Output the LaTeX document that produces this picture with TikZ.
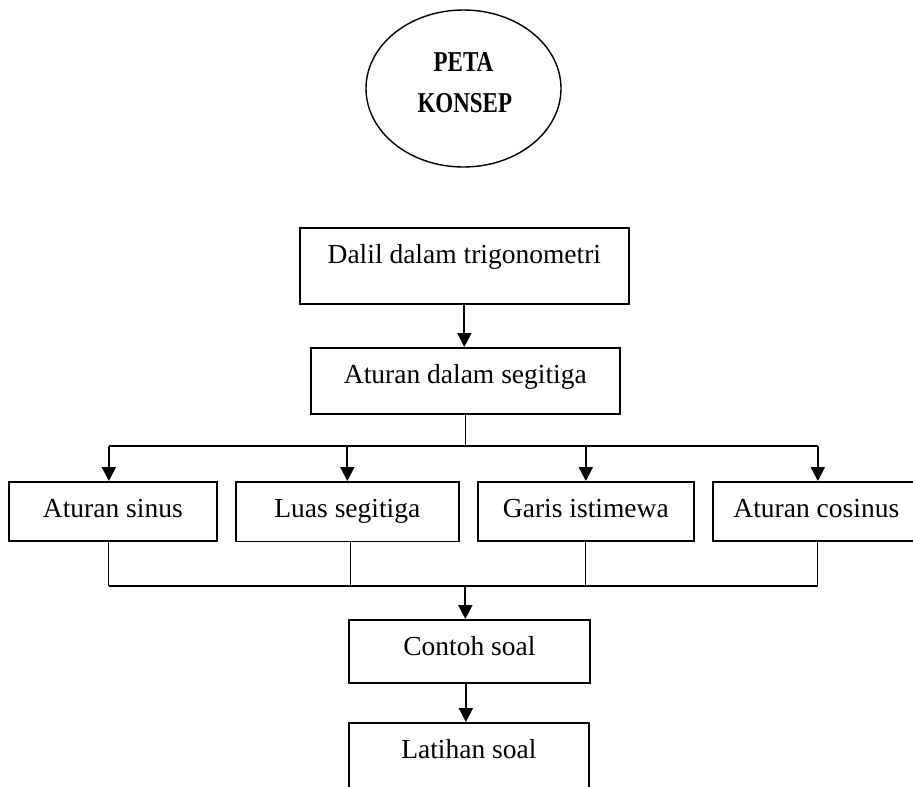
\documentclass[tikz,border=0pt]{standalone}
\usepackage{fontspec}
\setmainfont{Liberation Serif}
\usetikzlibrary{shapes.geometric,arrows.meta}
\begin{document}
\begin{tikzpicture}[x=1pt,y=-1pt,
  box/.style={draw, line width=1.7pt, inner xsep=0pt, inner ysep=0pt,
    text height=35.5pt, anchor=north west,
    font=\fontsize{27.5}{33}\selectfont},
  busline/.style={line width=1.5pt},
  thinline/.style={line width=1.2pt},
  flow/.style={line width=2pt, -{Triangle[width=14pt,length=14pt]}},
  titletext/.style={font=\bfseries\fontsize{23}{28}\selectfont, inner sep=0pt, anchor=base}
]
\useasboundingbox (0,0) rectangle (913,787);
\clip (0,0) rectangle (913,787);

% title ellipse
\node[draw, ellipse, line width=1.4pt, minimum width=195pt, minimum height=157pt] (peta) at (463.5,88.5) {};
\node[titletext] (petaA) at (463.5,71) {\scalebox{1}[1.25]{PETA}};
\node[titletext] (petaB) at (464.8,112.5) {\scalebox{1}[1.25]{KONSEP}};

% boxes
\node[box, minimum width=329pt, text depth=40.5pt] (dalil) at (299,227) {Dalil dalam trigonometri};
\node[box, minimum width=309pt, text depth=30.5pt] (atd) at (310,347) {Aturan dalam segitiga};
\node[box, minimum width=208pt, text depth=23.5pt] (sinus) at (8,481) {Aturan sinus};
\node[box, minimum width=223pt, text depth=24pt] (luas) at (235,481) {Luas segitiga};
\node[box, minimum width=216pt, text depth=23.5pt] (garis) at (477,481) {Garis istimewa};
\node[box, minimum width=207pt, text depth=23.5pt] (cosinus) at (712,481) {Aturan cosinus};
\node[box, minimum width=241pt, text depth=27.5pt] (contoh) at (348,619) {Contoh soal};
\node[box, minimum width=240pt, text depth=40pt] (latihan) at (348,722) {Latihan soal};

% bus lines and connector attachment points
\coordinate (busA) at (0,446);
\coordinate (busB) at (0,586);
\coordinate (sinusTop) at ([xshift=-4pt]sinus.north);
\coordinate (sinusBot) at ([xshift=-4pt]sinus.south);
\coordinate (cosTop) at ([xshift=1.5pt]cosinus.north);
\coordinate (cosBot) at ([xshift=1.5pt]cosinus.south);
\coordinate (luasBot) at ([xshift=3.5pt]luas.south);
\coordinate (contohBot) at ([xshift=-3.5pt]contoh.south);

% connectors
\draw[flow] (dalil.south) -- (dalil.south |- atd.north);
\draw[thinline] (atd.south) -- (atd.south |- busA);
\draw[busline] (sinusTop |- busA) -- (cosTop |- busA);
\draw[flow] (sinusTop |- busA) -- (sinusTop);
\draw[flow] (luas.north |- busA) -- (luas.north);
\draw[flow] (garis.north |- busA) -- (garis.north);
\draw[flow] (cosTop |- busA) -- (cosTop);

\draw[thinline] (sinusBot) -- (sinusBot |- busB);
\draw[thinline] (luasBot) -- (luasBot |- busB);
\draw[thinline] (garis.south) -- (garis.south |- busB);
\draw[thinline] (cosBot) -- (cosBot |- busB);
\draw[busline] (sinusBot |- busB) -- (cosBot |- busB);
\draw[flow] (atd.south |- busB) -- (atd.south |- contoh.north);
\draw[flow] (contohBot) -- (contohBot |- latihan.north);
\end{tikzpicture}
\end{document}
